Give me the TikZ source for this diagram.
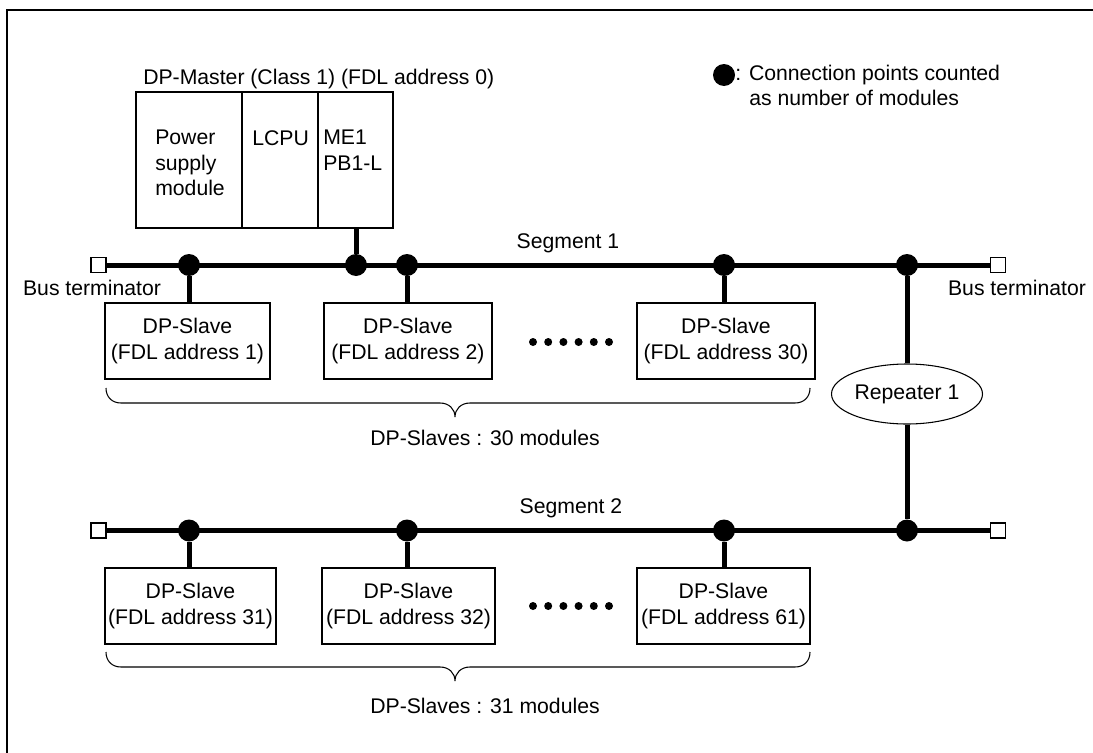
\documentclass[tikz,border=0pt]{standalone}
\usepackage{fontspec}
\setmainfont{Liberation Sans}
\usetikzlibrary{shapes.geometric}

\begin{document}
\begin{tikzpicture}[x=0.75pt,y=-0.75pt,
  font=\fontsize{15.9}{19}\selectfont,
  bus/.style={line width=3.75pt},
  conn/.style={circle,fill=black,inner sep=0pt,minimum size=16.5pt},
  term/.style={draw,fill=white,line width=0.8pt,inner sep=0pt,minimum size=11.25pt},
  module/.style={draw,line width=0.8pt,inner sep=0pt,minimum height=102pt},
  slave/.style={draw,line width=0.8pt,align=center,inner xsep=2pt,minimum height=57pt},
  lbl/.style={inner sep=0pt,anchor=base}]
  \useasboundingbox (0,0) rectangle (1093,753);
  \draw[line width=1.5pt] (7,753) -- (7,10) -- (1093,10);

  % legend
  \node[conn] (key) at (724,75) {};
  \node[lbl,anchor=base west] (keytxt) at (735,80) {: Connection points counted};
  \node[lbl,anchor=base west] (keytxt2) at (749,105) {as number of modules};

  % master station
  \node[lbl,anchor=base west] (mtitle) at (143,84) {DP-Master (Class 1) (FDL address 0)};
  \node[module,minimum width=79.5pt] (pw) at (189,160) {};
  \node[module,minimum width=57pt] (cpu) at (280,160) {};
  \node[module,minimum width=56.25pt] (me) at (355.5,160) {};
  \node[inner sep=0pt,anchor=north west,align=left] (pwtxt) at (155,130) {Power\\supply\\module};
  \node[inner sep=0pt,anchor=north west] (cputxt) at (252,130) {LCPU};
  \node[inner sep=0pt,anchor=north west,align=left] (metxt) at (323,130) {ME1\\PB1-L};

  % segment 1
  \node[term] (tl1) at (98.5,265) {};
  \node[term] (tr1) at (998,265) {};
  \node[conn] (c1) at (189,265) {};
  \node[conn] (cm) at (356,265) {};
  \node[conn] (c2) at (407,265) {};
  \node[conn] (c30) at (724,265) {};
  \node[conn] (cr1) at (907,265) {};
  \draw[bus] (tl1) -- (tr1);
  \node[lbl] (seg1) at (568,248) {Segment 1};
  \node[lbl] (btl1) at (92,295) {Bus terminator};
  \node[lbl] (btr1) at (1017,295) {Bus terminator};
  \node[slave,minimum width=123.75pt] (s1) at (187.5,341) {DP-Slave\\(FDL address 1)};
  \node[slave,minimum width=126pt] (s2) at (408,341) {DP-Slave\\(FDL address 2)};
  \node[slave,minimum width=133.5pt] (s30) at (726,341) {DP-Slave\\(FDL address 30)};
  \draw[bus] (cm |- me.south) -- (cm);
  \draw[bus] (c1) -- (c1 |- s1.north);
  \draw[bus] (c2) -- (c2 |- s2.north);
  \draw[bus] (c30) -- (c30 |- s30.north);
  \foreach \i in {0,...,5}
    \fill (533+15.2*\i,342) circle (3pt);

  % repeater
  \node[ellipse,draw,line width=0.8pt,inner sep=0pt,minimum width=113.25pt,minimum height=45pt] (rep) at (907,394) {Repeater 1};

  % segment 2
  \node[term] (tl2) at (98.5,530.5) {};
  \node[term] (tr2) at (998,530.5) {};
  \node[conn] (c31) at (189,530.5) {};
  \node[conn] (c32) at (407,530.5) {};
  \node[conn] (c61) at (724,530.5) {};
  \node[conn] (cr2) at (907,530.5) {};
  \draw[bus] (tl2) -- (tr2);
  \draw[bus] (cr1) -- (rep);
  \draw[bus] (rep) -- (cr2);
  \node[lbl] (seg2) at (571,513) {Segment 2};
  \node[slave,minimum width=128.25pt] (s31) at (190.5,606) {DP-Slave\\(FDL address 31)};
  \node[slave,minimum width=129.75pt] (s32) at (408.5,606) {DP-Slave\\(FDL address 32)};
  \node[slave,minimum width=129.75pt] (s61) at (723.5,606) {DP-Slave\\(FDL address 61)};
  \draw[bus] (c31) -- (c31 |- s31.north);
  \draw[bus] (c32) -- (c32 |- s32.north);
  \draw[bus] (c61) -- (c61 |- s61.north);
  \foreach \i in {0,...,5}
    \fill (533+15.2*\i,606) circle (3pt);

  % braces
  \foreach \y in {388,652}
    \draw[line width=0.8pt] (106,\y) .. controls (106,\y+9) and (112,\y+15) .. (121,\y+15)
      -- (440,\y+15) .. controls (449,\y+15) and (455,\y+21) .. (455,\y+29)
      .. controls (455,\y+21) and (461,\y+15) .. (470,\y+15)
      -- (795,\y+15) .. controls (804,\y+15) and (810,\y+9) .. (810,\y);
  \node[lbl] (cnt1) at (485,445) {DP-Slaves : 30 modules};
  \node[lbl] (cnt2) at (485,713) {DP-Slaves : 31 modules};
\end{tikzpicture}
\end{document}
